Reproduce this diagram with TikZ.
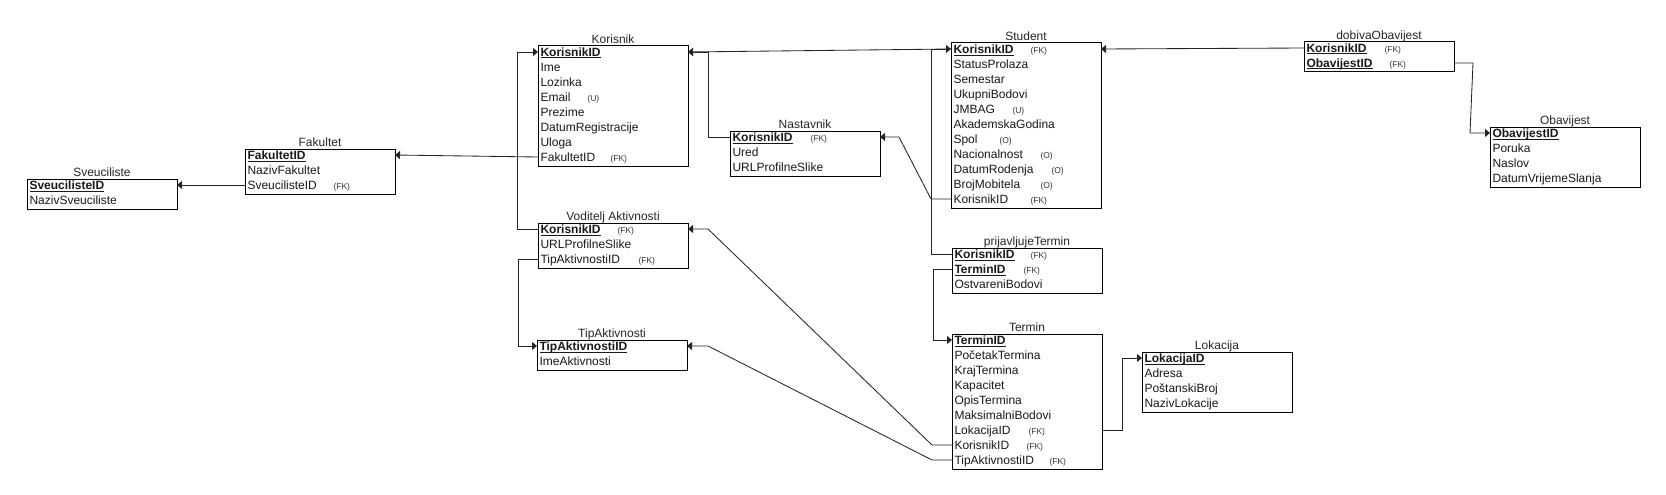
\documentclass[tikz,border=0pt]{standalone}
\usepackage{fontspec}
\setmainfont{Liberation Sans}
\usetikzlibrary{arrows.meta}
\newcommand\pkey[1]{\underline{\smash{\textbf{#1}}}}
\newcommand\fkrow[3]{\makebox[#1pt][l]{#2}{\fontsize{8.5}{9}\selectfont\color{black!80}#3}}
\tikzset{
  tbox/.style={draw=black, line width=1pt, outer sep=0pt, inner sep=0pt, minimum width=150pt, anchor=north west},
  trow/.style={anchor=west, inner xsep=2.5pt, inner ysep=0pt, outer sep=0pt, text width=145pt, align=left,
    text height=8.6pt, text depth=0pt, font=\fontsize{12}{14}\selectfont, text=black!90},
  ttitle/.style={anchor=base, inner sep=0pt, font=\fontsize{12}{14}\selectfont, text=black!85},
  fk/.style={draw=black!85, line width=0.85pt, -{Triangle[length=5pt,width=8pt]}},
}
\newcommand\erbox[6]{%
  \node[tbox, minimum height={15*#4}] (#1) at (#2,#3) {};
  \node[ttitle] (#1-t) at ([yshift=2.5pt]#1.north) {#5};
  \foreach \r [count=\i] in {#6} {
    \node[trow] (#1-\i) at ({#2},{#3+6+15*(\i-1)}) {\r};
  }%
}
\begin{document}
\begin{tikzpicture}[x=1pt,y=-1pt]
\fill[white] (0,0) rectangle (1666,495);
\useasboundingbox (0,0) rectangle (1666,495);

\erbox{sve}{27}{179}{2}{Sveuciliste}{{\pkey{SveucilisteID}},NazivSveuciliste}
\erbox{fak}{245}{149}{3}{Fakultet}{{\pkey{FakultetID}},NazivFakultet,{\fkrow{86}{SveucilisteID}{(FK)}}}
\erbox{kor}{538}{46}{8}{Korisnik}{{\pkey{KorisnikID}},Ime,Lozinka,{\fkrow{47}{Email}{(U)}},Prezime,DatumRegistracije,Uloga,{\fkrow{70}{FakultetID}{(FK)}}}
\erbox{nas}{730}{131}{3}{Nastavnik}{{\fkrow{78}{\pkey{KorisnikID}}{(FK)}},Ured,URLProfilneSlike}
\erbox{stu}{951}{43}{11}{Student}{{\fkrow{77}{\pkey{KorisnikID}}{(FK)}},StatusProlaza,Semestar,UkupniBodovi,{\fkrow{59}{JMBAG}{(U)}},AkademskaGodina,{\fkrow{46}{Spol}{(O)}},{\fkrow{87}{Nacionalnost}{(O)}},{\fkrow{98}{DatumRodenja}{(O)}},{\fkrow{87}{BrojMobitela}{(O)}},{\fkrow{77}{KorisnikID}{(FK)}}}
\erbox{dob}{1304}{42}{2}{dobivaObavijest}{{\fkrow{78}{\pkey{KorisnikID}}{(FK)}},{\fkrow{83}{\pkey{ObavijestID}}{(FK)}}}
\erbox{oba}{1490}{127}{4}{Obavijest}{{\pkey{ObavijestID}},Poruka,Naslov,DatumVrijemeSlanja}
\erbox{vod}{538}{223}{3}{Voditelj Aktivnosti}{{\fkrow{77}{\pkey{KorisnikID}}{(FK)}},URLProfilneSlike,{\fkrow{98}{TipAktivnostiID}{(FK)}}}
\erbox{tip}{537}{340}{2}{TipAktivnosti}{{\pkey{TipAktivnostiID}},ImeAktivnosti}
\erbox{pri}{952}{248}{3}{prijavljujeTermin}{{\fkrow{76}{\pkey{KorisnikID}}{(FK)}},{\fkrow{69}{\pkey{TerminID}}{(FK)}},OstvareniBodovi}
\erbox{ter}{952}{334}{9}{Termin}{{\pkey{TerminID}},PočetakTermina,KrajTermina,Kapacitet,OpisTermina,MaksimalniBodovi,{\fkrow{74}{LokacijaID}{(FK)}},{\fkrow{72}{KorisnikID}{(FK)}},{\fkrow{95}{TipAktivnostiID}{(FK)}}}
\erbox{lok}{1142}{352}{4}{Lokacija}{{\pkey{LokacijaID}},Adresa,PoštanskiBroj,NazivLokacije}

% connectors
\draw[fk] (fak-3.west) -- (sve-1.east);
\draw[fk] (kor-8.west) -- (fak-1.east);
\draw[fk] (vod-1.west) -- ++(-21,0) |- (kor-1.west);
\draw[fk] (vod-3.west) -- ++(-20,0) |- (tip-1.west);
\draw[fk] (nas-1.west) -- ++(-22,0) |- (kor-1.east);
\draw[fk] (stu-1.west) -- (kor-1.east);
\draw[fk] (pri-1.west) -- ++(-21,0) |- (stu-1.west);
\draw[fk] (stu-11.west) -- ++(-20,0) -- ([xshift=19pt]nas-1.east) -- (nas-1.east);
\draw[fk] (dob-1.west) -- (stu-1.east);
\draw[fk] (dob-2.east) -- ++(19,0) -- ([xshift=-20pt]oba-1.west) -- (oba-1.west);
\draw[fk] (pri-2.west) -- ++(-19,0) |- (ter-1.west);
\draw[fk] (ter-8.west) -- ++(-20,0) -- ([xshift=20pt]vod-1.east) -- (vod-1.east);
\draw[fk] (ter-9.west) -- ++(-20,0) -- ([xshift=21pt]tip-1.east) -- (tip-1.east);
\draw[fk] (ter-7.east) -- ++(20,0) |- (lok-1.west);
\end{tikzpicture}
\end{document}
